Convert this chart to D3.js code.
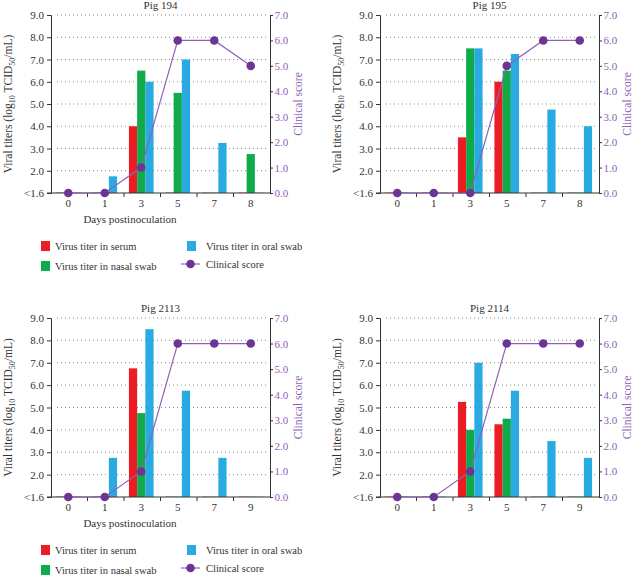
<!DOCTYPE html>
<html>
<head>
<meta charset="utf-8">
<script src="https://cdn.jsdelivr.net/npm/d3@7"></script>
<style>
	body { margin: 0; background: #fff; }
	svg { display: block; }
	text { font-family: "Liberation Serif", "DejaVu Serif", serif; fill: #333; }
</style>
</head>
<body>
<div id="data-viz"></div>
<script>

// null = below detection limit (<1.6)
const titles = ["Pig 194", "Pig 195", "Pig 2113", "Pig 2114"]

const days194 = ["0", "1", "3", "5", "7", "8"]
const serum194 = [null, null, 4.0, null, null, null]
const nasal194 = [null, null, 6.5, 5.5, null, 2.75]
const oral194 = [null, 1.75, 6.0, 7.0, 3.25, null]
const score194 = [0, 0, 1, 6, 6, 5]

const days195 = ["0", "1", "3", "5", "7", "8"]
const serum195 = [null, null, 3.5, 6.0, null, null]
const nasal195 = [null, null, 7.5, 6.5, null, null]
const oral195 = [null, null, 7.5, 7.25, 4.75, 4.0]
const score195 = [0, 0, 0, 5, 6, 6]

const days2113 = ["0", "1", "3", "5", "7", "9"]
const serum2113 = [null, null, 6.75, null, null, null]
const nasal2113 = [null, null, 4.75, null, null, null]
const oral2113 = [null, 2.75, 8.5, 5.75, 2.75, null]
const score2113 = [0, 0, 1, 6, 6, 6]

const days2114 = ["0", "1", "3", "5", "7", "9"]
const serum2114 = [null, null, 5.25, 4.25, null, null]
const nasal2114 = [null, null, 4.0, 4.5, null, null]
const oral2114 = [null, null, 7.0, 5.75, 3.5, 2.75]
const score2114 = [0, 0, 1, 6, 6, 6]

const titerTicks = [1, 2, 3, 4, 5, 6, 7, 8, 9]
const scoreTicks = [0, 1, 2, 3, 4, 5, 6, 7]
const seriesKeys = ["serum", "nasal", "oral"]
const seriesNames = ["Virus titer in serum", "Virus titer in nasal swab", "Virus titer in oral swab", "Clinical score"]

var app = {

	settings: {},

	init: () => {

		app.settings.width = 634
		app.settings.height = 576

		app.settings.colors = { serum: "#ec1c24", nasal: "#0fab4b", oral: "#29abe2" }
		app.settings.purple = "#6a3594"
		app.settings.purpleLight = "#8c62b8"

		app.settings.panels = [
			{ title: titles[0], days: days194, serum: serum194, nasal: nasal194, oral: oral194, score: score194, x0: 51, x1: 270, y0: 15, y1: 193, xlabel: true, legend: true },
			{ title: titles[1], days: days195, serum: serum195, nasal: nasal195, oral: oral195, score: score195, x0: 380, x1: 599, y0: 15, y1: 193, xlabel: false, legend: false },
			{ title: titles[2], days: days2113, serum: serum2113, nasal: nasal2113, oral: oral2113, score: score2113, x0: 51, x1: 270, y0: 318, y1: 497, xlabel: true, legend: true },
			{ title: titles[3], days: days2114, serum: serum2114, nasal: nasal2114, oral: oral2114, score: score2114, x0: 380, x1: 599, y0: 318, y1: 497, xlabel: false, legend: false }
		]

		app.svg = d3.select("#data-viz").append("svg")
			.attr("width", app.settings.width)
			.attr("height", app.settings.height)

		app.settings.panels.forEach((p) => app.drawPanel(p))

	},

	drawPanel: (p) => {

		var svg = app.svg.append("g")

		var x = d3.scaleBand().domain(p.days).range([p.x0, p.x1])
		var y = d3.scaleLinear().domain([1, 9]).range([p.y1, p.y0])
		var y2 = d3.scaleLinear().domain([0, 7]).range([p.y1, p.y0])

		var bw = x.bandwidth() * 0.225
		var inner = d3.scaleBand().domain(seriesKeys).range([0, bw * 3])
		var cx = (d) => x(d) + x.bandwidth() / 2 - 1

		// dotted grid
		svg.append("g").selectAll("line")
			.data(titerTicks.slice(1))
			.join("line")
			.attr("x1", p.x0 + 6)
			.attr("x2", p.x1 - 2)
			.attr("y1", (d) => y(d))
			.attr("y2", (d) => y(d))
			.attr("stroke", "#8a8a8a")
			.attr("stroke-width", 1)
			.attr("stroke-dasharray", "1,3")

		// bars
		var rows = []
		p.days.forEach((d, i) => {
			seriesKeys.forEach((k) => rows.push({ day: d, key: k, value: p[k][i] }))
		})

		svg.append("g").selectAll("rect")
			.data(rows)
			.join("rect")
			.attr("x", (d) => cx(d.day) - bw * 1.5 + inner(d.key))
			.attr("width", inner.bandwidth())
			.attr("y", (d) => d.value == null ? y(1) - 1 : y(d.value))
			.attr("height", (d) => d.value == null ? 1 : y(1) - y(d.value))
			.attr("fill", (d) => app.settings.colors[d.key])
			.attr("opacity", (d) => d.value == null ? 0.35 : 1)

		// axes
		var yAxis = d3.axisLeft(y).tickValues(titerTicks).tickSize(4)
			.tickFormat((d) => d === 1 ? "<1.6" : d3.format(".1f")(d))
		var gy = svg.append("g").attr("transform", `translate(${p.x0},0)`).call(yAxis)

		var y2Axis = d3.axisRight(y2).tickValues(scoreTicks).tickSize(3).tickPadding(1.5).tickFormat(d3.format(".1f"))
		var gy2 = svg.append("g").attr("transform", `translate(${p.x1},0)`).call(y2Axis)

		var gx = svg.append("g").attr("transform", `translate(0,${p.y1})`)
		gx.append("line").attr("x1", p.x0 - 4).attr("x2", p.x1).attr("stroke", "#333")
		gx.selectAll(".bt").data(p.days.slice(1)).join("line")
			.attr("class", "bt")
			.attr("x1", (d) => x(d)).attr("x2", (d) => x(d))
			.attr("y1", 0).attr("y2", 4).attr("stroke", "#333")
		gx.selectAll("text").data(p.days).join("text")
			.attr("x", (d) => cx(d))
			.attr("y", 14)
			.attr("text-anchor", "middle")
			.attr("font-size", 11)
			.text((d) => d)

		gy.select(".domain").attr("stroke", "#333")
		gy.selectAll(".tick line").attr("stroke", "#333")
		gy.selectAll(".tick text").attr("font-size", 11).attr("fill", "#333")
			.style("font-family", "Liberation Serif")

		gy2.select(".domain").attr("stroke", "#333")
		gy2.selectAll(".tick line").attr("stroke", "#333")
		gy2.selectAll(".tick text").attr("font-size", 11).attr("fill", app.settings.purpleLight)
			.style("font-family", "Liberation Serif").style("fill", app.settings.purpleLight)

		// clinical score line
		var line = d3.line().x((d, i) => cx(p.days[i])).y((d) => y2(d))

		svg.append("path")
			.datum(p.score)
			.attr("d", line)
			.attr("fill", "none")
			.attr("stroke", app.settings.purpleLight)
			.attr("stroke-width", 1.2)

		svg.append("g").selectAll("circle")
			.data(p.score)
			.join("circle")
			.attr("cx", (d, i) => cx(p.days[i]))
			.attr("cy", (d) => y2(d))
			.attr("r", 4.3)
			.attr("fill", app.settings.purple)

		// titles and labels
		svg.append("text")
			.attr("x", (p.x0 + p.x1) / 2)
			.attr("y", p.y0 - 6)
			.attr("text-anchor", "middle")
			.attr("font-size", 11)
			.text(p.title)

		var lab = svg.append("text")
			.attr("transform", `translate(${p.x0 - 39},${(p.y0 + p.y1) / 2}) rotate(-90)`)
			.attr("text-anchor", "middle")
			.attr("font-size", 11.5)
		lab.append("tspan").text("Viral titers (log")
		lab.append("tspan").attr("font-size", 8).attr("dy", 3).text("10")
		lab.append("tspan").attr("dy", -3).text(" TCID")
		lab.append("tspan").attr("font-size", 8).attr("dy", 3).text("50")
		lab.append("tspan").attr("dy", -3).text("/mL)")

		svg.append("text")
			.attr("transform", `translate(${p.x1 + 32},${(p.y0 + p.y1) / 2}) rotate(-90)`)
			.attr("text-anchor", "middle")
			.attr("font-size", 11.5)
			.style("fill", app.settings.purpleLight)
			.text("Clinical score")

		if (p.xlabel) {
			svg.append("text")
				.attr("x", 130)
				.attr("y", p.y1 + 30)
				.attr("text-anchor", "middle")
				.attr("font-size", 11)
				.text("Days postinoculation")
		}

		if (p.legend) app.drawLegend(p.y1 + 48)

	},

	drawLegend: (top) => {

		var g = app.svg.append("g").attr("transform", `translate(0,${top})`)

		var items = [
			{ name: seriesNames[0], color: app.settings.colors.serum, x: 41, y: 0 },
			{ name: seriesNames[1], color: app.settings.colors.nasal, x: 41, y: 20 },
			{ name: seriesNames[2], color: app.settings.colors.oral, x: 187, y: 0 }
		]

		items.forEach((d) => {
			g.append("rect").attr("x", d.x).attr("y", d.y).attr("width", 9).attr("height", 10).attr("fill", d.color)
			g.append("text").attr("x", d.x + (d.x > 100 ? 19 : 14)).attr("y", d.y + 8.5)
				.attr("font-size", 10.5).text(d.name)
		})

		g.append("line").attr("x1", 181).attr("x2", 200).attr("y1", 23).attr("y2", 23)
			.attr("stroke", app.settings.purpleLight).attr("stroke-width", 1.2)
		g.append("circle").attr("cx", 190.5).attr("cy", 23).attr("r", 4.3).attr("fill", app.settings.purple)
		g.append("text").attr("x", 206).attr("y", 26.5).attr("font-size", 10.5).text(seriesNames[3])

	}

}

app.init()

</script>
</body>
</html>
